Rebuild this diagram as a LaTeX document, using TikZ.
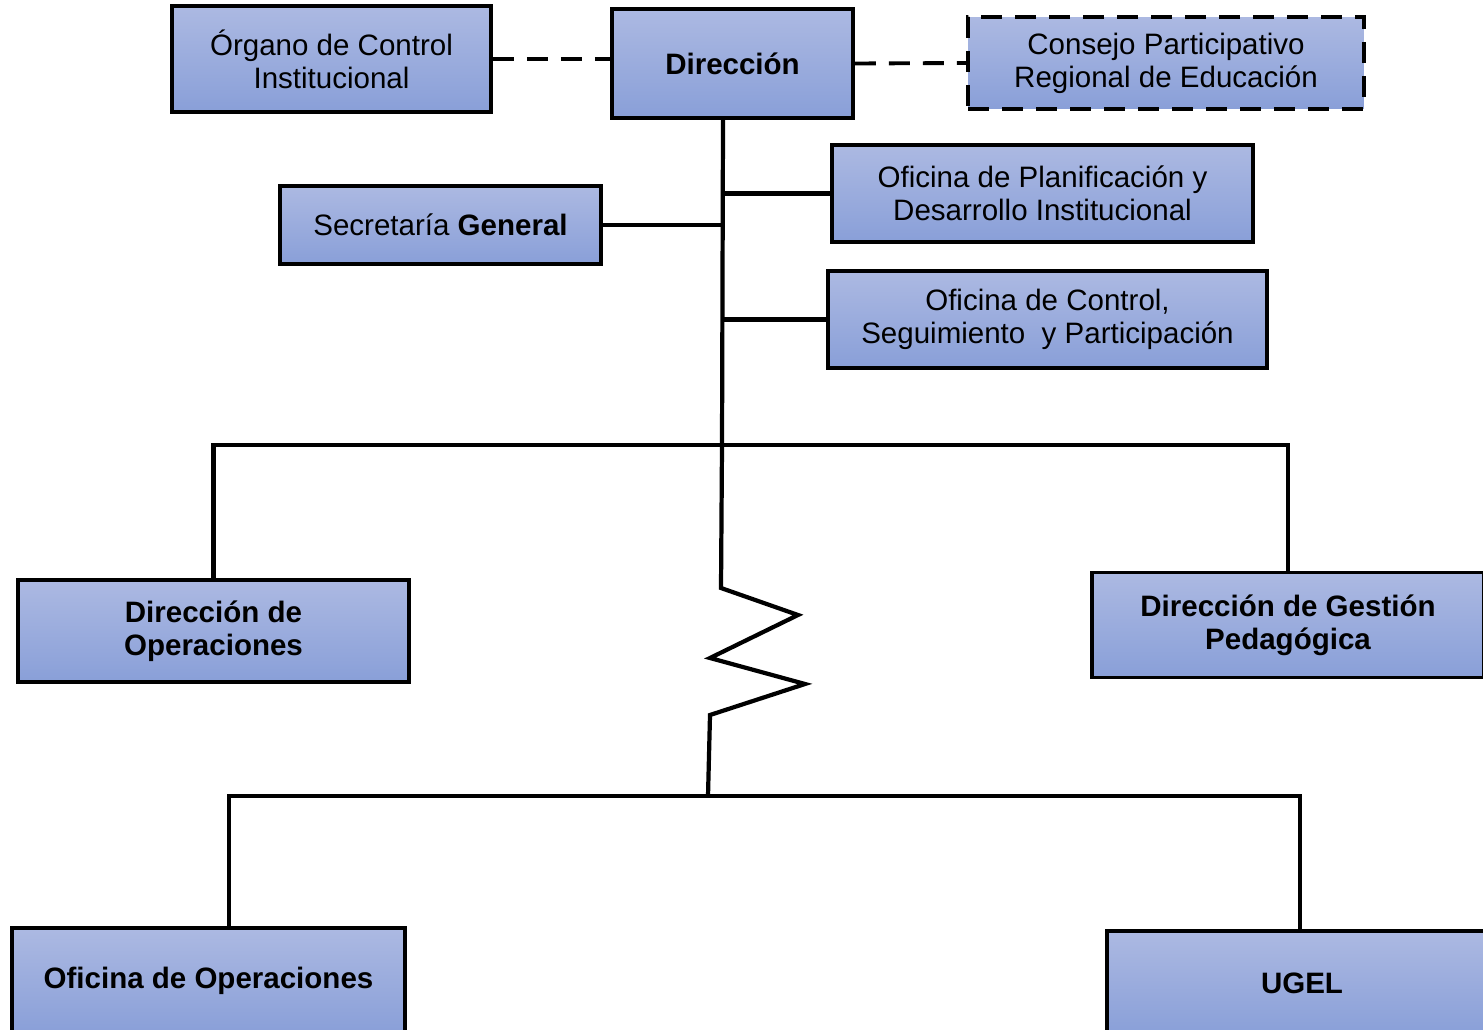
\documentclass[tikz,border=0pt]{standalone}
\usepackage{fontspec}
\setmainfont{Liberation Sans}
\usetikzlibrary{positioning}

\definecolor{cajaarriba}{RGB}{172,185,226}
\definecolor{cajaabajo}{RGB}{137,159,216}

\tikzset{
  unidad/.style={draw=black,line width=2.2pt,top color=cajaarriba,bottom color=cajaabajo,
    align=center,inner sep=2pt,font=\fontsize{16.8}{18.8}\selectfont},
  negrita/.style={font=\fontsize{16.8}{18.8}\selectfont\bfseries},
  enlace/.style={line width=2.4pt},
  punteado/.style={line width=2.2pt,dash pattern=on 0.42cm off 0.26cm}
}

\begin{document}
\begin{tikzpicture}[x=0.02cm,y=-0.02cm]
			\useasboundingbox (0,0) rectangle (1483,1030);
			\clip (0,0) rectangle (1483,1030);
			% organos de alta direccion
			\node[unidad,minimum width=6.38cm,minimum height=2.12cm] (organo) at (331.5,59) {Órgano de Control\\Institucional};
			\node[unidad,negrita,minimum width=4.82cm,minimum height=2.18cm] (direccion) at (732.5,63.5) {Dirección};
			\node[unidad,punteado,minimum width=7.92cm,minimum height=1.84cm] (consejo) at (1166,63) {Consejo Participativo\\Regional de Educación};
			% organos de apoyo y asesoria
			\node[unidad,minimum width=8.42cm,minimum height=1.94cm] (planif) at (1042.5,193.5) {Oficina de Planificación y\\Desarrollo Institucional};
			\node[unidad,minimum width=6.42cm,minimum height=1.56cm] (secretaria) at (440.5,225) {Secretaría \textbf{General}};
			\node[unidad,minimum width=8.78cm,minimum height=1.94cm] (control) at (1047.5,319.5) {Oficina de Control,\\Seguimiento\ \ y Participación};
			% organos de linea
			\node[unidad,negrita,minimum width=7.82cm,minimum height=2.04cm] (dirop) at (213.5,631) {Dirección de\\Operaciones};
			\node[unidad,negrita,minimum width=7.84cm,minimum height=2.1cm] (dgp) at (1288,625) {Dirección de Gestión\\Pedagógica};
			% organos desconcentrados
			\node[unidad,negrita,minimum width=7.86cm,minimum height=2.12cm] (ofiop) at (208.5,981) {Oficina de Operaciones};
			\node[unidad,negrita,minimum width=7.8cm,minimum height=2.08cm] (ugel) at (1302,983) {UGEL};
			% lineas punteadas
			\draw[punteado] (organo.east) -- (organo.east -| direccion.west);
			\draw[punteado] (direccion.east) -- (consejo.west);
			% tronco y quiebre
			\coordinate (tronco) at (723,0 |- direccion.south);
			\coordinate (barra1) at (722,445);
			\coordinate (barra2) at (708,796);
			\draw[enlace] (tronco) -- (barra1) -- (721,588) -- (798,615) -- (710,658) -- (805,684) -- (710,715) -- (barra2);
			\draw[enlace] (tronco |- planif.west) -- (planif.west);
			\draw[enlace] (secretaria.east) -- (secretaria.east -| tronco);
			\draw[enlace] (tronco |- control.west) -- (control.west);
			% barras horizontales
			\draw[enlace] (dirop.north) -- (dirop.north |- barra1) -- (dgp.north |- barra1) -- (dgp.north);
			\draw[enlace] (229,0 |- ofiop.north) -- (229,796) -- (1300,796) -- (1300,0 |- ugel.north);
		\end{tikzpicture}
\end{document}
